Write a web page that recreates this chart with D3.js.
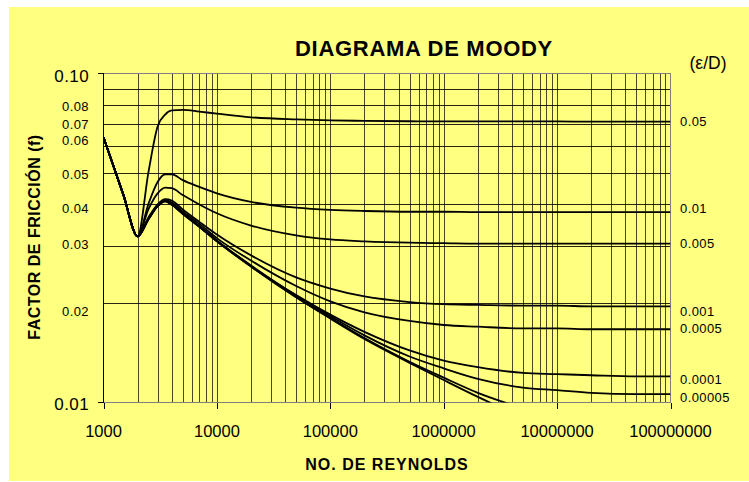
<!DOCTYPE html>
<html>
<head>
<meta charset="utf-8">
<script src="https://cdn.jsdelivr.net/npm/d3@7/dist/d3.min.js"></script>
<style>
  body { margin: 0; background: #fff; }
  text { font-family: "Liberation Sans", Arial, sans-serif; fill: #000; }
</style>
</head>
<body>
<div id="chart"></div>
<script>
const reynolds = [1000, 1500, 2000, 2500, 3000, 3500, 4000, 5000, 7000, 1e4, 2e4, 5e4,
                  1e5, 2e5, 5e5, 1e6, 2e6, 5e6, 1e7, 2e7, 5e7, 1e8];

// friction factor for each relative roughness (null = below the chart)
const f_005    = [.064, .0427, .032, .0505, .0690, .0750, .0772, .0775, .0766, .0755, .0736, .0725,
                  .0720, .0718, .0716, .0715, .0715, .0715, .0715, .0714, .0714, .0714];
const f_001    = [.064, .0427, .032, .0403, .0468, .0494, .0494, .0474, .0452, .0432, .0407, .0391,
                  .0385, .0382, .0380, .0380, .0379, .0379, .0379, .0379, .0379, .0379];
const f_0005   = [.064, .0427, .032, .0388, .0432, .0450, .0448, .0427, .0400, .0376, .0345, .0322,
                  .0313, .0309, .0306, .0305, .0304, .0304, .0304, .0304, .0304, .0304];
const f_0001   = [.064, .0427, .032, .0366, .0400, .0415, .0411, .0386, .0354, .0324, .0280, .0240,
                  .0222, .0210, .0202, .0199, .0198, .0197, .0197, .0196, .0196, .0196];
const f_00005  = [.064, .0427, .032, .0364, .0398, .0413, .0405, .0380, .0349, .0316, .0270, .0226,
                  .0203, .0188, .0177, .0172, .0170, .0168, .0168, .0167, .0167, .0167];
const f_00001  = [.064, .0427, .032, .0362, .0396, .0410, .0401, .0376, .0344, .0311, .0261, .0212,
                  .0185, .0164, .0144, .0134, .0128, .0123, .0122, .0121, .0120, .0120];
const f_000005 = [.064, .0427, .032, .0362, .0396, .0410, .0400, .0375, .0343, .0310, .0260, .0211,
                  .0183, .0160, .0138, .0127, .0118, .0111, .0109, .0107, .0106, .0106];
const f_000001 = [.064, .0427, .032, .0361, .0395, .0409, .0400, .0375, .0342, .0309, .0259, .0209,
                  .0181, .0157, .0133, .0119, .0107, .0096, null, null, null, null];
const f_0000001 = [.064, .0427, .032, .0361, .0395, .0409, .0399, .0374, .0342, .0309, .0259, .0209,
                  .0180, .0156, .0132, .0117, .0104, .0090, null, null, null, null];

const roughLabels = ["0.05", "0.01", "0.005", "0.001", "0.0005", "0.0001", "0.00005", "", ""];
const curves = [f_005, f_001, f_0005, f_0001, f_00005, f_00001, f_000005, f_000001, f_0000001];
const labelShift = [0, -4, 0, 5, -1, 3, 3, 0, 0]; // text boxes sit a bit off their lines

const yLabelValues = [0.10, 0.08, 0.07, 0.06, 0.05, 0.04, 0.03, 0.02, 0.01];
const yLabelText = ["0.10", "0.08", "0.07", "0.06", "0.05", "0.04", "0.03", "0.02", "0.01"];
const yLabelShift = [2.5, 0.6, -0.5, -6, 2, 4, -1.5, 8, 1.5];
const yGridValues = [0.02, 0.03, 0.04, 0.05, 0.06, 0.07, 0.08, 0.09];

const xTickValues = [1e3, 1e4, 1e5, 1e6, 1e7, 1e8];
const xTickText = ["1000", "10000", "100000", "1000000", "10000000", "100000000"];

const W = 749, H = 482;
const LEFT = 103.5, RIGHT = 670.5, TOP = 73.5, BOTTOM = 402.5;

var svg = d3.select("#chart").append("svg")
  .attr("width", W)
  .attr("height", H);

svg.append("rect") // yellow chart area
  .attr("x", 9).attr("y", 7)
  .attr("width", W - 9).attr("height", 474)
  .attr("fill", "#ffff80");

var x = d3.scaleLog().domain([1e3, 1e8]).range([LEFT, RIGHT]);
var y = d3.scaleLog().domain([0.01, 0.1]).range([BOTTOM, TOP]);

// vertical grid: every 1..9 x 10^k
var xGrid = [];
for (let k = 3; k < 8; k++) for (let m = 1; m < 10; m++) xGrid.push(m * Math.pow(10, k));

var grid = svg.append("g").attr("shape-rendering", "crispEdges");
grid.selectAll("line.v")
  .data(xGrid.slice(1))
  .join("line")
    .attr("x1", d => Math.round(x(d)) + 0.5).attr("x2", d => Math.round(x(d)) + 0.5)
    .attr("y1", TOP).attr("y2", BOTTOM)
    .attr("stroke", "#1a1a10").attr("stroke-opacity", 0.8);

grid.selectAll("line.h")
  .data(yGridValues)
  .join("line")
    .attr("x1", LEFT).attr("x2", RIGHT)
    .attr("y1", d => Math.round(y(d)) + 0.5).attr("y2", d => Math.round(y(d)) + 0.5)
    .attr("stroke", "#000").attr("stroke-opacity", 0.85);

// plot border
grid.append("rect")
  .attr("x", LEFT).attr("y", TOP)
  .attr("width", RIGHT - LEFT).attr("height", BOTTOM - TOP)
  .attr("fill", "none").attr("stroke", "#808080");
grid.append("line") // left axis
  .attr("x1", LEFT).attr("x2", LEFT).attr("y1", TOP).attr("y2", BOTTOM)
  .attr("stroke", "#000");

// x ticks below the axis
grid.selectAll("line.xt")
  .data(xTickValues)
  .join("line")
    .attr("x1", d => Math.round(x(d)) + 0.5).attr("x2", d => Math.round(x(d)) + 0.5)
    .attr("y1", BOTTOM).attr("y2", BOTTOM + 6)
    .attr("stroke", "#000");
// y major ticks
grid.selectAll("line.yt")
  .data([0.1, 0.01])
  .join("line")
    .attr("x1", LEFT - 6).attr("x2", LEFT)
    .attr("y1", d => y(d)).attr("y2", d => y(d))
    .attr("stroke", "#000");

svg.append("clipPath").attr("id", "plot")
  .append("rect")
  .attr("x", LEFT).attr("y", TOP)
  .attr("width", RIGHT - LEFT).attr("height", BOTTOM - TOP);

var line = d3.line()
  .defined(d => d[1] != null)
  .x(d => x(d[0]))
  .y(d => y(d[1]))
  .curve(d3.curveMonotoneX);

svg.append("g")
  .attr("clip-path", "url(#plot)")
  .selectAll("path")
  .data(curves)
  .join("path")
    .attr("d", vals => line(reynolds.map((r, i) => [r, vals[i]])))
    .attr("fill", "none")
    .attr("stroke", "#000")
    .attr("stroke-width", 1.8)
    .attr("stroke-linejoin", "round");

// roughness labels at the right end of each curve
svg.append("g")
  .selectAll("text")
  .data(curves.map((vals, i) => ({ label: roughLabels[i], f: vals[vals.length - 1], dy: labelShift[i] }))
    .filter(d => d.label))
  .join("text")
    .attr("x", 680)
    .attr("y", d => y(d.f) + d.dy)
    .attr("dy", "0.35em")
    .attr("font-size", 13)
    .attr("letter-spacing", 0.4)
    .text(d => d.label);

// y labels
svg.append("g")
  .selectAll("text")
  .data(yLabelValues)
  .join("text")
    .attr("x", 89)
    .attr("y", (d, i) => y(d) + yLabelShift[i])
    .attr("dy", "0.35em")
    .attr("text-anchor", "end")
    .attr("font-size", (d, i) => (i === 0 || i === yLabelValues.length - 1) ? 17 : 13)
    .attr("letter-spacing", 0.4)
    .text((d, i) => yLabelText[i]);

// x labels
svg.append("g")
  .selectAll("text")
  .data(xTickValues)
  .join("text")
    .attr("x", d => x(d))
    .attr("y", 437)
    .attr("text-anchor", "middle")
    .attr("font-size", 16.5)
    .text((d, i) => xTickText[i]);

svg.append("text")
  .attr("x", 424).attr("y", 56)
  .attr("text-anchor", "middle")
  .attr("font-size", 22).attr("font-weight", "bold")
  .attr("letter-spacing", 0.7)
  .text("DIAGRAMA DE MOODY");

svg.append("text")
  .attr("x", 708).attr("y", 69)
  .attr("text-anchor", "middle")
  .attr("font-size", 17.5)
  .text("(ε/D)");

svg.append("text")
  .attr("x", 387).attr("y", 470)
  .attr("text-anchor", "middle")
  .attr("font-size", 16).attr("font-weight", "bold")
  .attr("letter-spacing", 1)
  .text("NO. DE REYNOLDS");

svg.append("text")
  .attr("transform", "translate(40,237) rotate(-90)")
  .attr("text-anchor", "middle")
  .attr("font-size", 16).attr("font-weight", "bold")
  .attr("letter-spacing", 0.5)
  .text("FACTOR DE FRICCIÓN (f)");
</script>
</body>
</html>
